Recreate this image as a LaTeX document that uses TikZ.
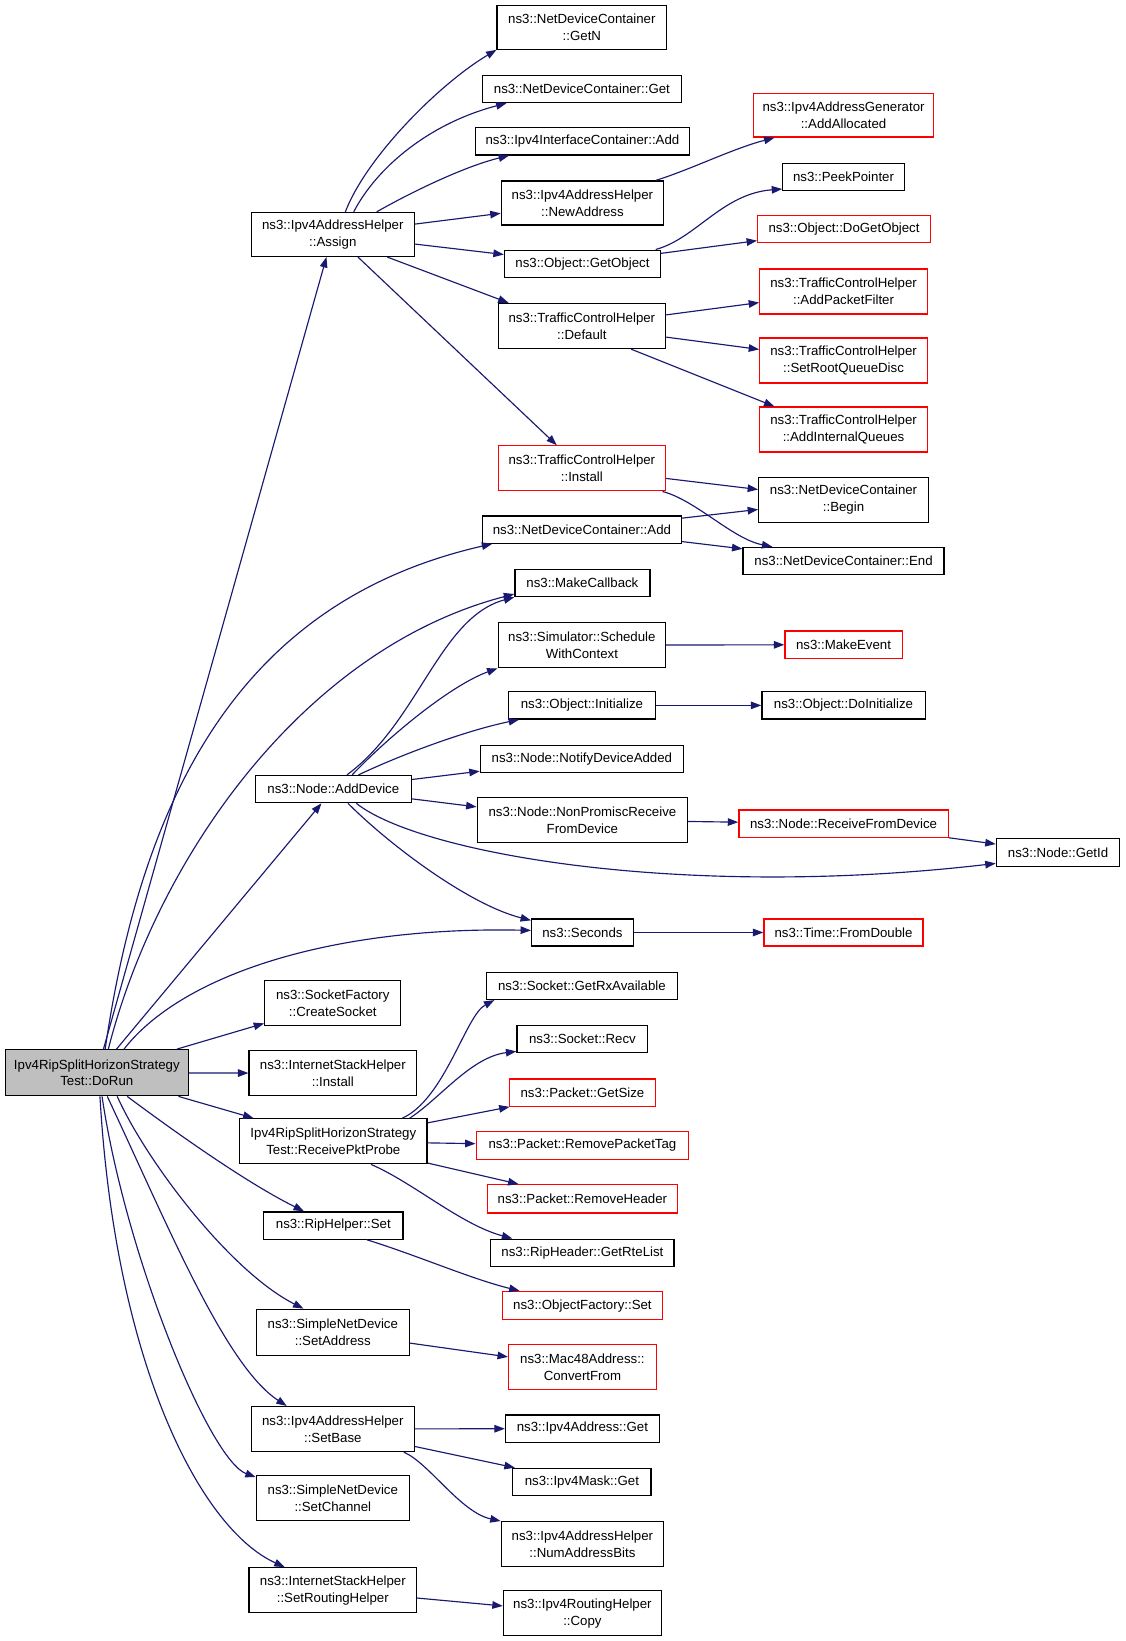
\documentclass[tikz,border=0pt]{standalone}
\usepackage{fontspec}
\setmainfont{Liberation Sans}
\usetikzlibrary{arrows.meta}
\definecolor{edgec}{RGB}{25,25,112}
\definecolor{grayfill}{RGB}{191,191,191}
\newcommand\fs{\fontsize{6.33pt}{8pt}\selectfont}
\newcommand\bx[7][]{\node[box,#1,minimum width={(#4-#2)*0.5pt},minimum height={(#5-#3)*0.5pt}] (#6) at ({(#2+#4)/2},{(#3+#5)/2}) {#7};}
\tikzset{
  box/.style={draw=black, fill=white, line width=0.6pt, inner sep=0pt, align=center, font=\fs},
  rbox/.style={draw=red},
  gbox/.style={fill=grayfill},
  e/.style={draw=edgec, line width=0.55pt, -{Triangle[length=5pt,width=3.6pt]}},
}
\begin{document}
\begin{tikzpicture}[x=0.5pt,y=-0.5pt]
\useasboundingbox (0,0) rectangle (1075,1568);
% nodes
\bx[gbox]{5}{1003}{180}{1047}{dorun}{Ipv4RipSplitHorizonStrategy\\Test::DoRun}
\bx{240}{203}{396}{245}{assign}{ns3::Ipv4AddressHelper\\::Assign}
\bx{475}{5}{637}{47}{getn}{ns3::NetDeviceContainer\\::GetN}
\bx{461}{72}{651}{98}{ndcget}{ns3::NetDeviceContainer::Get}
\bx{454}{122}{659}{148}{iicadd}{ns3::Ipv4InterfaceContainer::Add}
\bx{479}{173}{634}{215}{newaddr}{ns3::Ipv4AddressHelper\\::NewAddress}
\bx[rbox]{720}{89}{892}{131}{addalloc}{ns3::Ipv4AddressGenerator\\::AddAllocated}
\bx{748}{156}{864}{182}{peek}{ns3::PeekPointer}
\bx[rbox]{724}{206}{889}{232}{dogetobj}{ns3::Object::DoGetObject}
\bx{482}{239}{631}{265}{getobj}{ns3::Object::GetObject}
\bx{476}{290}{636}{333}{tchdefault}{ns3::TrafficControlHelper\\::Default}
\bx[rbox]{726}{257}{886}{300}{addpf}{ns3::TrafficControlHelper\\::AddPacketFilter}
\bx[rbox]{726}{323}{886}{366}{setroot}{ns3::TrafficControlHelper\\::SetRootQueueDisc}
\bx[rbox]{726}{389}{886}{432}{addiq}{ns3::TrafficControlHelper\\::AddInternalQueues}
\bx[rbox]{476}{426}{636}{469}{tchinst}{ns3::TrafficControlHelper\\::Install}
\bx{725}{456}{887}{499}{ndcbegin}{ns3::NetDeviceContainer\\::Begin}
\bx{461}{493}{651}{519}{ndcadd}{ns3::NetDeviceContainer::Add}
\bx{710}{523}{902}{549}{ndcend}{ns3::NetDeviceContainer::End}
\bx{492}{544}{621}{570}{makecb}{ns3::MakeCallback}
\bx{476}{595}{636}{638}{sched}{ns3::Simulator::Schedule\\WithContext}
\bx[rbox]{750}{603}{862}{629}{makeev}{ns3::MakeEvent}
\bx{486}{661}{626}{687}{objinit}{ns3::Object::Initialize}
\bx{728}{661}{884}{687}{doinit}{ns3::Object::DoInitialize}
\bx{459}{712}{653}{738}{notify}{ns3::Node::NotifyDeviceAdded}
\bx{244}{741}{393}{767}{adddev}{ns3::Node::AddDevice}
\bx{456}{762}{657}{805}{nonprom}{ns3::Node::NonPromiscReceive\\FromDevice}
\bx[rbox]{706}{774}{906}{800}{recvdev}{ns3::Node::ReceiveFromDevice}
\bx{952}{801}{1070}{828}{getid}{ns3::Node::GetId}
\bx{508}{878}{605}{904}{seconds}{ns3::Seconds}
\bx[rbox]{730}{878}{882}{904}{fromdbl}{ns3::Time::FromDouble}
\bx{253}{937}{383}{980}{createsock}{ns3::SocketFactory\\::CreateSocket}
\bx{238}{1004}{398}{1047}{ishinst}{ns3::InternetStackHelper\\::Install}
\bx{465}{929}{647}{955}{rxavail}{ns3::Socket::GetRxAvailable}
\bx{494}{980}{619}{1006}{recv}{ns3::Socket::Recv}
\bx[rbox]{487}{1031}{626}{1057}{getsize}{ns3::Packet::GetSize}
\bx[rbox]{455}{1081}{658}{1108}{rmtag}{ns3::Packet::RemovePacketTag}
\bx{229}{1069}{408}{1112}{rpp}{Ipv4RipSplitHorizonStrategy\\Test::ReceivePktProbe}
\bx[rbox]{466}{1132}{647}{1159}{rmhdr}{ns3::Packet::RemoveHeader}
\bx{252}{1158}{385}{1184}{ripset}{ns3::RipHelper::Set}
\bx{469}{1184}{644}{1210}{rte}{ns3::RipHeader::GetRteList}
\bx[rbox]{480}{1234}{633}{1261}{ofset}{ns3::ObjectFactory::Set}
\bx{245}{1251}{391}{1295}{setaddr}{ns3::SimpleNetDevice\\::SetAddress}
\bx[rbox]{486}{1285}{627}{1328}{convfrom}{ns3::Mac48Address::\\ConvertFrom}
\bx{240}{1344}{396}{1387}{setbase}{ns3::Ipv4AddressHelper\\::SetBase}
\bx{483}{1352}{630}{1378}{v4get}{ns3::Ipv4Address::Get}
\bx{490}{1403}{622}{1429}{maskget}{ns3::Ipv4Mask::Get}
\bx{245}{1410}{391}{1453}{setchan}{ns3::SimpleNetDevice\\::SetChannel}
\bx{479}{1454}{634}{1497}{numbits}{ns3::Ipv4AddressHelper\\::NumAddressBits}
\bx{238}{1498}{398}{1541}{srh}{ns3::InternetStackHelper\\::SetRoutingHelper}
\bx{481}{1520}{632}{1563}{rhcopy}{ns3::Ipv4RoutingHelper\\::Copy}
% edges from DoRun
\draw[e] (dorun) -- (assign);
\draw[e] ([xshift=4pt]dorun.north) .. controls (140,730) and (250,570) .. ([xshift=5pt]ndcadd.south west);
\draw[e] ([xshift=5.5pt]dorun.north) .. controls (150,820) and (290,620) .. ([yshift=1.5pt]makecb.south west);
\draw[e] (dorun) -- (adddev);
\draw[e] ([xshift=13pt]dorun.north) .. controls (175,930) and (320,885) .. ([yshift=1pt]seconds.west);
\draw[e] (dorun) -- (createsock);
\draw[e] (dorun) -- (ishinst);
\draw[e] (dorun) -- (rpp);
\draw[e] ([xshift=14.5pt]dorun.south) .. controls (165,1080) and (235,1130) .. ([xshift=-14pt]ripset.north);
\draw[e] ([xshift=9.75pt]dorun.south) .. controls (140,1110) and (220,1215) .. ([xshift=-14pt]setaddr.north);
\draw[e] ([xshift=5pt]dorun.south) .. controls (160,1170) and (215,1305) .. ([xshift=-22pt]setbase.north);
\draw[e] ([xshift=2.5pt]dorun.south) .. controls (120,1200) and (200,1395) .. ([yshift=10pt]setchan.west);
\draw[e] ([xshift=1.5pt]dorun.south) .. controls (110,1300) and (190,1460) .. ([xshift=-23pt]srh.north);
% edges from Assign
\draw[e] ([xshift=6pt]assign.north) .. controls (350,150) and (420,80) .. (getn.south west);
\draw[e] ([xshift=10pt]assign.north) .. controls (360,160) and (410,118) .. ([xshift=-36pt]ndcget.south);
\draw[e] ([xshift=21pt]assign.north) .. controls (385,188) and (440,160) .. ([xshift=-35pt]iicadd.south);
\draw[e] (assign) -- (newaddr);
\draw[e] (assign) -- (getobj);
\draw[e] ([xshift=26pt]assign.south) -- ([xshift=-35pt]tchdefault.north);
\draw[e] ([xshift=12pt]assign.south) -- ([xshift=-12pt]tchinst.north);
\draw[e] ([xshift=35pt]newaddr.north) .. controls (660,162) and (700,142) .. ([xshift=-33pt]addalloc.south);
\draw[e] ([xshift=35pt]getobj.north) .. controls (665,228) and (690,185) .. ([yshift=1pt]peek.south west);
\draw[e] (getobj) -- (dogetobj);
\draw[e] (tchdefault) -- (addpf);
\draw[e] (tchdefault) -- (setroot);
\draw[e] ([xshift=23.5pt]tchdefault.south) -- ([xshift=-33pt]addiq.north);
\draw[e] (tchinst) -- (ndcbegin);
\draw[e] ([xshift=38.5pt]tchinst.south) .. controls (665,478) and (700,515) .. ([xshift=-34pt]ndcend.north);
\draw[e] (ndcadd) -- (ndcbegin);
\draw[e] (ndcadd) -- (ndcend);
% edges from AddDevice
\draw[e] ([xshift=6.5pt]adddev.north) .. controls (400,690) and (420,590) .. (makecb.south west);
\draw[e] ([xshift=9pt]adddev.north) .. controls (370,705) and (430,655) .. (sched.south west);
\draw[e] ([xshift=12pt]adddev.north) .. controls (390,718) and (450,697) .. ([xshift=-30pt]objinit.south);
\draw[e] (adddev) -- (notify);
\draw[e] (adddev) -- (nonprom);
\draw[e] ([xshift=11pt]adddev.south) .. controls (400,815) and (650,860) .. ([yshift=-5.25pt]getid.west);
\draw[e] ([xshift=7pt]adddev.south) .. controls (375,810) and (450,865) .. ([yshift=-1pt]seconds.north west);
\draw[e] (sched) -- (makeev);
\draw[e] (objinit) -- (doinit);
\draw[e] (nonprom) -- (recvdev);
\draw[e] (recvdev) -- (getid);
\draw[e] (seconds) -- (fromdbl);
% edges from ReceivePktProbe etc.
\draw[e] ([xshift=33pt]rpp.north) .. controls (425,1050) and (445,970) .. ([xshift=4pt]rxavail.south west);
\draw[e] ([xshift=36.5pt]rpp.north) .. controls (420,1050) and (450,1010) .. ([yshift=1pt]recv.south west);
\draw[e] (rpp) -- (getsize);
\draw[e] (rpp) -- (rmtag);
\draw[e] (rpp) -- (rmhdr);
\draw[e] ([xshift=18pt]rpp.south) .. controls (395,1130) and (440,1170) .. ([xshift=-33.5pt]rte.north);
\draw[e] ([xshift=16pt]ripset.south) .. controls (400,1200) and (450,1222) .. ([xshift=-30pt]ofset.north);
\draw[e] (setaddr) -- (convfrom);
\draw[e] (setbase) -- (v4get);
\draw[e] (setbase) -- (maskget);
\draw[e] ([xshift=34pt]setbase.south) .. controls (410,1398) and (440,1445) .. (numbits.north west);
\draw[e] (srh) -- (rhcopy);
\end{tikzpicture}
\end{document}
